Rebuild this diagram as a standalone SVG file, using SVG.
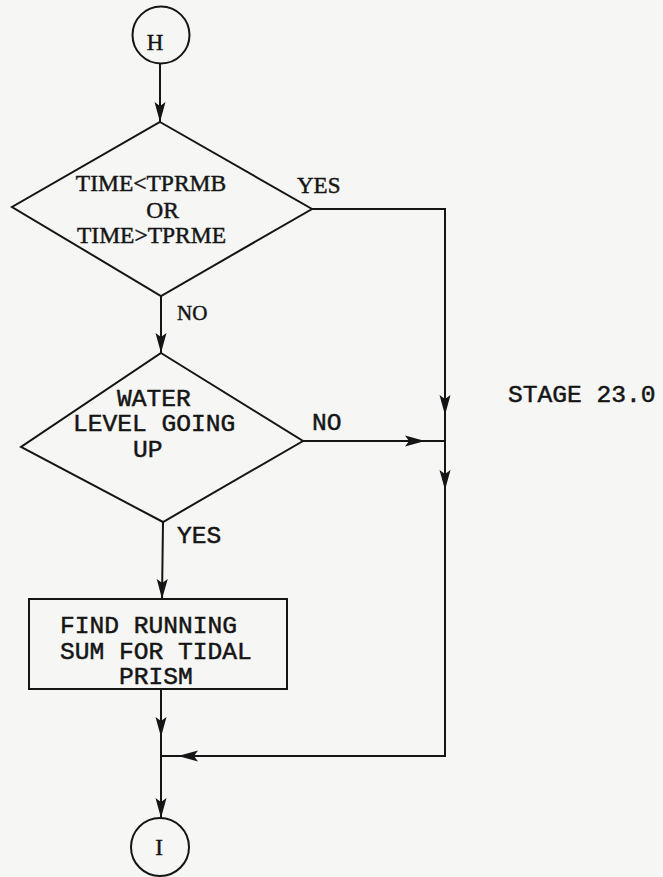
<svg xmlns="http://www.w3.org/2000/svg" width="663" height="877" viewBox="0 0 663 877">
<style>
.shape{fill:none;stroke:#151515;stroke-width:2}
.conn{fill:none;stroke:#151515;stroke-width:2}
.serif{font-family:"Liberation Serif","Times New Roman",serif;fill:#151515;stroke:#151515;stroke-width:0.45}
.mono{font-family:"Liberation Mono","Courier New",monospace;fill:#151515;font-size:24.6px;stroke:#151515;stroke-width:0.5}
</style>
<defs>
<marker id="arr" viewBox="0 0 20 12" refX="20" refY="6" markerWidth="20" markerHeight="12" markerUnits="userSpaceOnUse" orient="auto">
<path d="M0,0.5 L20,6 L0,11.5 L4,6 z" fill="#151515"/>
</marker>
</defs>
<rect x="0" y="0" width="663" height="877" fill="#f6f6f4"/>

<g id="connectors">
<path class="conn" d="M160,63 L160,122" marker-end="url(#arr)"/>
<path class="conn" d="M161,296 L161,353" marker-end="url(#arr)"/>
<path class="conn" d="M312,209 L445,209 L445,415" marker-end="url(#arr)"/>
<path class="conn" d="M445,415 L445,490" marker-end="url(#arr)"/>
<path class="conn" d="M303,441 L425,441" marker-end="url(#arr)"/>
<path class="conn" d="M425,441 L445,441"/>
<path class="conn" d="M163,522 L162,599" marker-end="url(#arr)"/>
<path class="conn" d="M161,689 L161,737" marker-end="url(#arr)"/>
<path class="conn" d="M445,490 L445,756 L178,756" marker-end="url(#arr)"/>
<path class="conn" d="M178,756 L161,756"/>
<path class="conn" d="M161,737 L161,818" marker-end="url(#arr)"/>
</g>

<g id="node-H">
<circle class="shape" cx="161" cy="35" r="28.5"/>
<text class="serif" x="155" y="50" font-size="23" text-anchor="middle">H</text>
</g>

<g id="node-decision-time">
<polygon class="shape" points="160,122 312,209 161,296 12,207"/>
<text class="serif" x="151" y="191" font-size="23.5" text-anchor="middle">TIME&lt;TPRMB</text>
<text class="serif" x="162.5" y="218" font-size="23.5" text-anchor="middle">OR</text>
<text class="serif" x="151.5" y="243" font-size="23.5" text-anchor="middle">TIME&gt;TPRME</text>
</g>

<g id="node-decision-water">
<polygon class="shape" points="161,353 303,441 163,522 21,447"/>
<text class="mono" x="117" y="406">WATER</text>
<text class="mono" x="73" y="431">LEVEL GOING</text>
<text class="mono" x="133" y="457">UP</text>
</g>

<g id="node-process">
<rect class="shape" x="29" y="599" width="258" height="90"/>
<text class="mono" x="60" y="633">FIND RUNNING</text>
<text class="mono" x="60" y="659">SUM FOR TIDAL</text>
<text class="mono" x="119" y="684">PRISM</text>
</g>

<g id="node-I">
<circle class="shape" cx="160" cy="847" r="29"/>
<text class="serif" x="159" y="855" font-size="23" text-anchor="middle">I</text>
</g>

<g id="labels">
<text class="serif" x="297" y="193" font-size="23">YES</text>
<text class="serif" x="177" y="320" font-size="21">NO</text>
<text class="mono" x="312" y="430">NO</text>
<text class="mono" x="177" y="543">YES</text>
<text class="mono" x="508" y="402">STAGE 23.0</text>
</g>
</svg>
